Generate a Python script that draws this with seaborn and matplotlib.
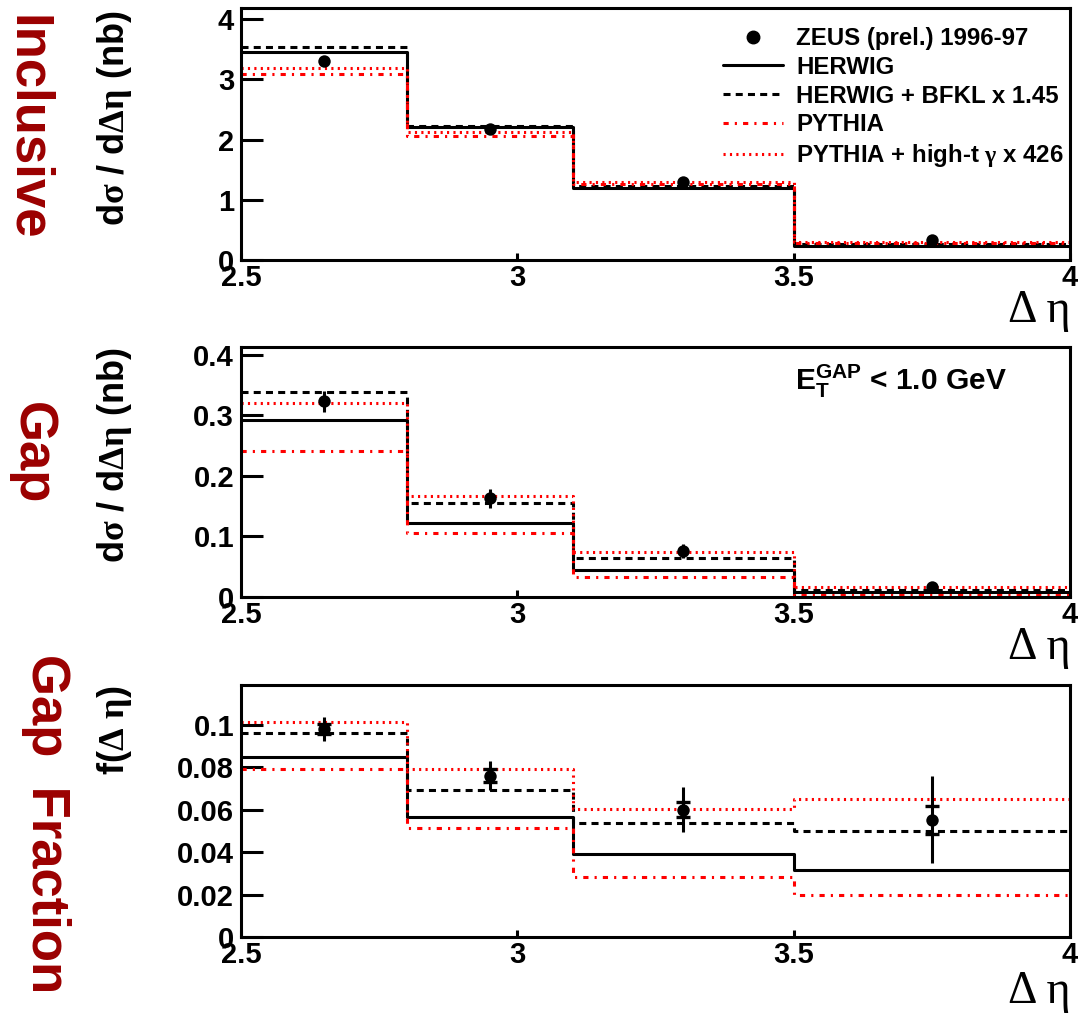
import numpy as np
import pandas as pd
import matplotlib
matplotlib.use("Agg")
import matplotlib.pyplot as plt
from matplotlib.lines import Line2D
import seaborn as sns

# ---------------- data ----------------
bin_edges = [2.5, 2.8, 3.1, 3.5, 4.0]
bin_centers = [2.65, 2.95, 3.30, 3.75]

incl_data = [3.30, 2.17, 1.30, 0.33]
incl_err = [0.04, 0.03, 0.03, 0.02]
incl_herwig = [3.46, 2.20, 1.19, 0.23]
incl_herwig_bfkl = [3.54, 2.23, 1.23, 0.26]
incl_pythia = [3.09, 2.06, 1.26, 0.28]
incl_pythia_hight = [3.18, 2.13, 1.30, 0.30]

gap_data = [0.323, 0.163, 0.076, 0.016]
gap_err = [0.017, 0.016, 0.012, 0.004]
gap_herwig = [0.293, 0.122, 0.045, 0.009]
gap_herwig_bfkl = [0.338, 0.155, 0.064, 0.012]
gap_pythia = [0.242, 0.105, 0.033, 0.004]
gap_pythia_hight = [0.321, 0.167, 0.075, 0.0165]

frac_data = [0.0980, 0.0760, 0.0600, 0.0552]
frac_err_tot = [0.0055, 0.0068, 0.0105, 0.0205]
frac_err_stat = [0.0025, 0.0030, 0.0035, 0.0066]
frac_herwig = [0.0848, 0.0568, 0.0390, 0.0317]
frac_herwig_bfkl = [0.0960, 0.0693, 0.0536, 0.0500]
frac_pythia = [0.0790, 0.0516, 0.0285, 0.0196]
frac_pythia_hight = [0.1013, 0.0790, 0.0604, 0.0650]

legend_labels = ["ZEUS (prel.) 1996-97", "HERWIG", "HERWIG + BFKL x 1.45",
                 "PYTHIA", r"PYTHIA + high-t $\gamma$ x 426"]
panel_names = ["Inclusive", "Gap", "Gap  Fraction"]
ylabels = [r"d$\sigma$ / d$\Delta\eta$ (nb)", r"d$\sigma$ / d$\Delta\eta$ (nb)", r"f($\Delta\ \eta$)"]
xlabel = "Δ η"
xticks = [2.5, 3.0, 3.5, 4.0]
xtick_labels = ["2.5", "3", "3.5", "4"]
yticks_list = [[0, 1, 2, 3, 4], [0, 0.1, 0.2, 0.3, 0.4], [0, 0.02, 0.04, 0.06, 0.08, 0.1]]
ytick_labels_list = [["0", "1", "2", "3", "4"], ["0", "0.1", "0.2", "0.3", "0.4"],
                     ["0", "0.02", "0.04", "0.06", "0.08", "0.1"]]
ylims = [4.184, 0.413, 0.1188]
cut_label = r"$\mathbf{E_{T}^{GAP}}$ < 1.0 GeV"

# ---------------- style ----------------
sns.set_style("white")
plt.rcParams["font.family"] = ["Liberation Sans", "DejaVu Sans"]
plt.rcParams["font.weight"] = "bold"
plt.rcParams["text.color"] = "black"
plt.rcParams["axes.labelcolor"] = "black"
plt.rcParams["xtick.color"] = "black"
plt.rcParams["ytick.color"] = "black"
plt.rcParams["mathtext.fontset"] = "custom"
plt.rcParams["mathtext.rm"] = "Liberation Serif"
plt.rcParams["mathtext.it"] = "Liberation Serif"
plt.rcParams["mathtext.bf"] = "Liberation Sans:bold"
plt.rcParams["mathtext.sf"] = "Liberation Sans:bold"

W, H = 1078, 1013
fig = plt.figure(figsize=(W / 100, H / 100), dpi=100)
fig.patch.set_facecolor("white")


def rect(l, t, r, b):
    return [l / W, 1 - b / H, (r - l) / W, (b - t) / H]


def fp(x, y):
    return (x / W, 1 - y / H)


ax_rects = [rect(241, 8, 1070, 260), rect(241, 347, 1070, 597), rect(241, 685, 1070, 937)]

LW = 2.2
styles = [
    dict(color="black", linestyle="-", linewidth=LW),
    dict(color="black", linestyle=(0, (2.3, 1.7)), linewidth=LW),
    dict(color="red", linestyle=(0, (1.7, 2.0, 0.7, 2.0)), linewidth=LW),
    dict(color="red", linestyle=(0, (0.7, 1.4)), linewidth=LW),
]

models_all = [
    [incl_herwig, incl_herwig_bfkl, incl_pythia, incl_pythia_hight],
    [gap_herwig, gap_herwig_bfkl, gap_pythia, gap_pythia_hight],
    [frac_herwig, frac_herwig_bfkl, frac_pythia, frac_pythia_hight],
]
data_all = [incl_data, gap_data, frac_data]
err_all = [incl_err, gap_err, frac_err_tot]

red_lab = "#9b0000"
name_pos = [(13, 128), (18, 453), (32, 824)]
ylab_pos = [(124, 118), (124, 455), (124, 730)]
xlab_base = [322, 659, 1003]

for i in range(3):
    ax = fig.add_axes(ax_rects[i])
    ax.set_facecolor("white")
    for vals, st in zip(models_all[i], styles):
        df = pd.DataFrame({"x": bin_centers, "w": vals})
        sns.histplot(data=df, x="x", weights="w", bins=bin_edges, element="step",
                     fill=False, ax=ax, **st)
    ax.errorbar(bin_centers, data_all[i], yerr=err_all[i], fmt="none",
                ecolor="black", elinewidth=2.2, capsize=0, zorder=6)
    if i == 2:
        ax.errorbar(bin_centers, data_all[i], yerr=frac_err_stat, fmt="none",
                    ecolor="black", elinewidth=0, capsize=5, capthick=2.4, zorder=6)
    sns.scatterplot(x=bin_centers, y=data_all[i], color="black", s=80,
                    marker="o", edgecolor="black", linewidth=0, zorder=7, ax=ax)

    ax.set_xlim(2.5, 4.0)
    ax.set_ylim(0, ylims[i])
    ax.set_xlabel("")
    ax.set_ylabel("")
    ax.set_xticks(xticks, xtick_labels)
    ax.set_yticks(yticks_list[i], ytick_labels_list[i])
    ax.minorticks_off()
    ax.tick_params(axis="y", direction="in", length=16, width=2.2, left=True,
                   right=False, labelsize=21, pad=5, colors="black")
    ax.tick_params(axis="x", direction="in", length=5, width=2.2, bottom=True,
                   top=False, labelsize=21, pad=3, colors="black")
    for lab in ax.get_xticklabels() + ax.get_yticklabels():
        lab.set_fontweight("bold")
        lab.set_color("black")
    for sp in ax.spines.values():
        sp.set_linewidth(2.2)
        sp.set_color("black")
        sp.set_visible(True)

    # panel name (red, rotated)
    fig.text(*fp(*name_pos[i]), panel_names[i], rotation=270, rotation_mode="anchor",
             ha="center", va="baseline", fontsize=38, fontweight="bold", color=red_lab)
    # y label
    fig.text(*fp(*ylab_pos[i]), ylabels[i], rotation=90, rotation_mode="anchor",
             ha="center", va="baseline", fontsize=26, fontweight="bold", color="black")
    # x label
    fig.text(*fp(1070, xlab_base[i]), xlabel, ha="right", va="baseline",
             fontsize=33, fontweight="normal", family="Liberation Serif", color="black")

    if i == 0:
        handles = [
            Line2D([], [], color="black", marker="o", linestyle="none", markersize=9),
            Line2D([], [], **styles[0]),
            Line2D([], [], **styles[1]),
            Line2D([], [], **styles[2]),
            Line2D([], [], **styles[3]),
        ]
        leg = ax.legend(handles, legend_labels, loc="upper left",
                        bbox_to_anchor=fp(723, 27), bbox_transform=fig.transFigure,
                        frameon=False, borderpad=0, borderaxespad=0, handlelength=2.5,
                        handletextpad=0.55, labelspacing=0.24,
                        prop={"weight": "bold", "size": 17.3})
        for t in leg.get_texts():
            t.set_color("black")
    if i == 1:
        fig.text(*fp(795, 390), cut_label, ha="left", va="baseline",
                 fontsize=21.5, fontweight="bold", color="black")

fig.savefig("out.png", dpi=100, facecolor="white")
